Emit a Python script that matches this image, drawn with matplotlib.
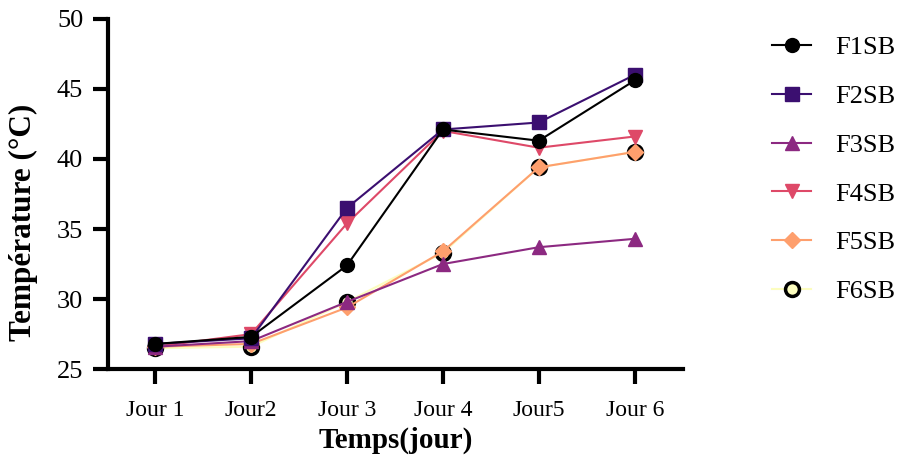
import matplotlib.pyplot as plt

plt.rcParams['font.family'] = ['Liberation Serif', 'DejaVu Serif']

jours = ['Jour 1', 'Jour2', 'Jour 3', 'Jour 4', 'Jour5', 'Jour 6']
f1sb = [26.8, 27.3, 32.4, 42.1, 41.3, 45.6]
f2sb = [26.8, 27.2, 36.5, 42.1, 42.6, 46.0]
f3sb = [26.6, 27.0, 29.8, 32.5, 33.7, 34.3]
f4sb = [26.6, 27.5, 35.4, 42.0, 40.8, 41.6]
f5sb = [26.6, 26.8, 29.4, 33.4, 39.4, 40.5]
f6sb = [26.5, 26.6, 29.8, 33.3, 39.4, 40.5]

fig = plt.figure(figsize=(9.09, 4.58), dpi=100)
ax = fig.add_axes([0.119, 0.194, 0.632, 0.765])

x = range(len(jours))
ax.plot(x, f6sb, color='#fcfdbf', lw=1.5, marker='o', ms=10, mfc='#fcfdbf', mec='black', mew=2.5, label='F6SB', zorder=2)
ax.plot(x, f5sb, color='#fe9f6d', lw=1.5, marker='D', ms=8, label='F5SB', zorder=3)
ax.plot(x, f4sb, color='#de4968', lw=1.5, marker='v', ms=10, label='F4SB', zorder=3)
ax.plot(x, f3sb, color='#8c2981', lw=1.5, marker='^', ms=10, label='F3SB', zorder=3)
ax.plot(x, f2sb, color='#3b0f70', lw=1.5, marker='s', ms=10, label='F2SB', zorder=3)
ax.plot(x, f1sb, color='black', lw=1.5, marker='o', ms=10, label='F1SB', zorder=4)

ax.set_xlim(-0.49, 5.5)
ax.set_ylim(25, 50)
ax.set_yticks([25, 30, 35, 40, 45, 50])
ax.set_xticks(list(x))
ax.set_xticklabels(jours)
for s in ['top', 'right']:
    ax.spines[s].set_visible(False)
for s in ['left', 'bottom']:
    ax.spines[s].set_linewidth(3)
ax.tick_params(width=3, length=11)
ax.tick_params(axis='x', pad=11, labelsize=17)
ax.tick_params(axis='y', pad=7, labelsize=19)
ax.set_xlabel('Temps(jour)', fontsize=21, fontweight='bold', labelpad=4)
ax.set_ylabel('Température (°C)', fontsize=22.5, fontweight='bold')
ax.yaxis.set_label_coords(-0.123, 0.42)

handles, labels = ax.get_legend_handles_labels()
order = [5, 4, 3, 2, 1, 0]
fig.legend([handles[i] for i in order], [labels[i] for i in order],
           loc='upper left', bbox_to_anchor=(0.823, 0.974), frameon=False,
           fontsize=19, labelspacing=0.96, handlelength=1.5, handletextpad=0.9)

fig.savefig('out.png', dpi=100)
